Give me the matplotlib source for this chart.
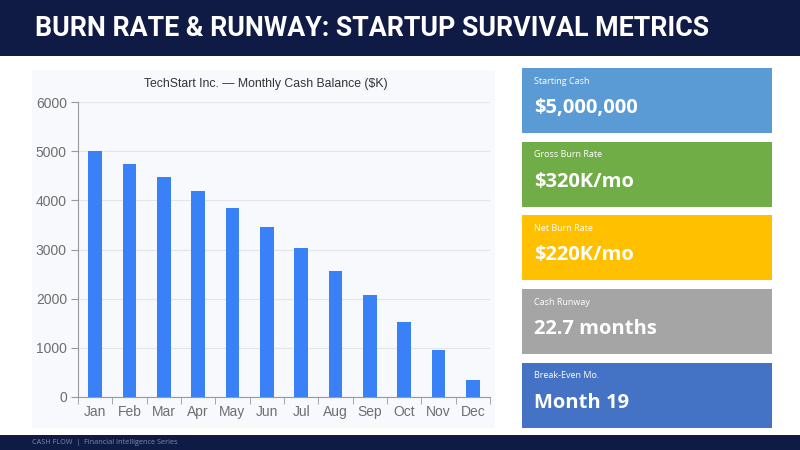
import matplotlib
matplotlib.use("Agg")
import matplotlib.pyplot as plt
from matplotlib.patches import Rectangle

months = ['Jan', 'Feb', 'Mar', 'Apr', 'May', 'Jun',
          'Jul', 'Aug', 'Sep', 'Oct', 'Nov', 'Dec']
cash = [5000, 4740, 4470, 4180, 3840, 3450, 3040, 2570, 2080, 1530, 960, 340]

card_labels = ['Starting Cash', 'Gross Burn Rate', 'Net Burn Rate',
               'Cash Runway', 'Break-Even Mo.']
card_values = ['$5,000,000', '$320K/mo', '$220K/mo', '22.7 months', 'Month 19']
card_colors = ['#5b9bd5', '#70ad47', '#ffc000', '#a5a5a5', '#4472c4']

W, H = 800, 450
navy = '#0f1b45'

fig = plt.figure(figsize=(8, 4.5), dpi=100)
fig.patch.set_facecolor('white')


def box(x, y, w, h, color, z=-5):
    # pixel coords, y from top
    fig.patches.append(Rectangle((x / W, 1 - (y + h) / H), w / W, h / H,
                                 transform=fig.transFigure, facecolor=color,
                                 edgecolor='none', zorder=z))


# header and footer bands
box(0, 0, 800, 56, navy)
box(0, 435, 800, 15, navy)
fig.text(35 / W, 1 - 28 / H, 'BURN RATE & RUNWAY: STARTUP SURVIVAL METRICS',
         color='white', fontsize=19.3, fontweight='bold', family='Roboto',
         va='center', ha='left')
fig.text(32 / W, 1 - 442 / H, 'CASH FLOW  |  Financial Intelligence Series',
         color='#7f8aa8', fontsize=5.2, family='Open Sans', va='center')

# chart panel
box(32, 70, 463, 358, '#f8f9fc')

ax = fig.add_axes([78 / W, (H - 397) / H, (490 - 78) / W, (397 - 102) / H])
ax.set_facecolor('none')
x = range(len(months))
ax.bar(x, cash, width=0.4, color='#3a80f6', zorder=3)
ax.set_xlim(-0.5, 11.5)
ax.set_ylim(0, 6000)
ax.set_yticks(range(0, 6001, 1000))
ax.set_xticks(list(x))
ax.set_xticklabels(months)
ax.set_xticks([i - 0.5 for i in range(13)], minor=True)
ax.tick_params(axis='x', which='major', length=0, pad=6,
               labelsize=10, labelcolor='#6e6e6e')
ax.tick_params(axis='x', which='minor', length=5, color='#999999')
ax.tick_params(axis='y', length=5, color='#999999', labelsize=10,
               labelcolor='#6e6e6e', pad=3)
for lbl in ax.get_xticklabels() + ax.get_yticklabels():
    lbl.set_family('Liberation Sans')
for s in ['top', 'right']:
    ax.spines[s].set_visible(False)
ax.spines['left'].set_color('#999999')
ax.spines['bottom'].set_color('#999999')
ax.grid(axis='y', color='#e4e6ee', linewidth=0.8, zorder=0)
ax.set_axisbelow(True)
ax.set_title('TechStart Inc. \u2014 Monthly Cash Balance ($K)', fontsize=8.8,
             color='#333333', pad=11, x=0.457, family='Liberation Sans')

# metric cards
card_top = 68
card_h = 65
gap = 8.7
for i, (lab, val, col) in enumerate(zip(card_labels, card_values, card_colors)):
    y0 = card_top + i * (card_h + gap)
    box(522, y0, 250, card_h, col)
    fig.text(534 / W, 1 - (y0 + 13) / H, lab, color='white', fontsize=6.5,
             family='Open Sans', va='center')
    fig.text(534 / W, 1 - (y0 + 40) / H, val, color='white', fontsize=14.5,
             family='Open Sans', fontweight='bold', va='center')

fig.savefig('out.png', dpi=100, facecolor=fig.get_facecolor())
